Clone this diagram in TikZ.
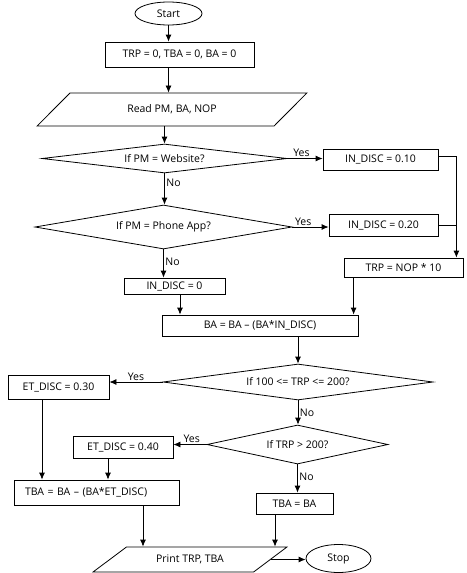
\documentclass[tikz,border=0pt]{standalone}
\usepackage{fontspec}
\setmainfont{Open Sans}
\usetikzlibrary{shapes.geometric,arrows.meta}
\begin{document}
\begin{tikzpicture}[x=1pt,y=-1pt,
  font=\fontsize{10.5}{12}\selectfont,
  line width=0.8pt,
  box/.style={draw, rectangle, inner sep=0pt, minimum width=#1},
  dec/.style={draw, diamond, shape aspect=8, inner sep=0pt},
  term/.style={draw, ellipse, inner sep=0pt},
  io/.style={draw, trapezium, trapezium stretches=true, inner sep=0pt},
  arr/.style={-{Latex[length=7pt,width=6pt]}},
  lbl/.style={inner sep=1.5pt}
]
\useasboundingbox (0,0) rectangle (466,573);

% nodes
\node[term, minimum width=67pt, minimum height=23pt] (start) at (168.5,13.5) {Start};
\node[box=149pt, minimum height=25pt] (b1) at (179.5,54.5) {TRP = 0, TBA = 0, BA = 0};
\node[io, trapezium left angle=33, trapezium right angle=147, minimum width=270pt, minimum height=33pt] (p1) at (172,109.5) {Read PM, BA, NOP};
\node[dec, minimum width=245pt, minimum height=29pt] (d1) at (164.5,158.5) {If PM = Website?};
\node[box=115pt, minimum height=21pt] (in1) at (380.5,159.5) {IN\_DISC = 0.10};
\node[dec, minimum width=257pt, minimum height=44pt] (d2) at (163.5,227) {If PM = Phone App?};
\node[box=109pt, minimum height=22pt] (in2) at (383.5,225) {IN\_DISC = 0.20};
\node[box=119pt, minimum height=19pt] (trp) at (403.5,267.5) {TRP = NOP * 10};
\node[box=101pt, minimum height=16pt] (in0) at (174.5,286) {IN\_DISC = 0};
\node[box=196pt, minimum height=21pt] (ba) at (260,325.5) {BA = BA -- (BA*IN\_DISC)};
\node[dec, minimum width=270pt, minimum height=36pt] (d3) at (298,382) {If 100 <= TRP <= 200?};
\node[box=101pt, minimum height=24pt] (et3) at (58.5,387) {ET\_DISC = 0.30};
\node[dec, minimum width=181pt, minimum height=39pt] (d4) at (297.5,444.5) {If TRP > 200?};
\node[box=100pt, minimum height=22pt] (et4) at (123,447) {ET\_DISC = 0.40};
\node[box=77pt, minimum height=21pt] (tbaba) at (294.5,503.5) {TBA = BA};
\node[draw, rectangle, inner xsep=11pt, inner ysep=0pt, text width=143pt, align=left, minimum height=25pt] (tba) at (96.5,492.5) {TBA = BA -- (BA*ET\_DISC)};
\node[io, trapezium left angle=27, trapezium right angle=153, minimum width=194pt, minimum height=25pt] (pr) at (190,559.5) {Print TRP, TBA};
\node[term, minimum width=65pt, minimum height=28pt] (stop) at (338.5,558.5) {Stop};

% helper coordinate
\coordinate (jn) at ([xshift=-7pt]trp.north east);

% connectors
\draw[arr] (start.south) -- (start.south |- b1.north);
\draw[arr] (b1.south -| start.south) -- (p1.north -| start.south);
\draw[arr] (p1.south -| d1.north) -- (d1.north);
\draw[arr] (d1.east) -- node[lbl, above, pos=0.4] {Yes} (d1.east -| in1.west);
\draw[arr] (d1.south) -- node[lbl, right, pos=0.3] {No} (d1.south |- d2.north);
\draw[arr] ([yshift=3.5pt]in1.east) -| (jn);
\draw (in2.east) -- (in2.east -| jn);
\draw[arr] (d2.east) -- node[lbl, above, pos=0.3] {Yes} (d2.east -| in2.west);
\draw[arr] (d2.south) -- node[lbl, right, pos=0.45] {No} (d2.south |- in0.north);
\draw[arr] ([xshift=5.5pt]in0.south) -- ([xshift=5.5pt]in0.south |- ba.north);
\draw[arr] ([xshift=10pt]trp.south west) -- ([xshift=10pt]trp.south west |- ba.north);
\draw[arr] (ba.south -| d3.north) -- (d3.north);
\draw[arr] (d3.west) -- node[lbl, above, pos=0.5] {Yes} (d3.west -| et3.east);
\draw[arr] (d3.south) -- node[lbl, right, pos=0.5] {No} (d3.south |- d4.north);
\draw[arr] (d4.west) -- node[lbl, above, pos=0.45] {Yes} (d4.west -| et4.east);
\draw[arr] (d4.south) -- node[lbl, right, pos=0.45] {No} (d4.south |- tbaba.north);
\draw[arr] ([xshift=-16.5pt]et3.south) -- ([xshift=-16.5pt]et3.south |- tba.north);
\draw[arr] ([xshift=-15pt]et4.south) -- ([xshift=-15pt]et4.south |- tba.north);
\draw[arr] ([xshift=46.5pt]tba.south) -- ([xshift=46.5pt]tba.south |- pr.north);
\draw[arr] ([xshift=-19.5pt]tbaba.south) -- ([xshift=-19.5pt]tbaba.south |- pr.north);
\draw[arr] (pr.east) -- (pr.east -| stop.west);
\end{tikzpicture}
\end{document}
